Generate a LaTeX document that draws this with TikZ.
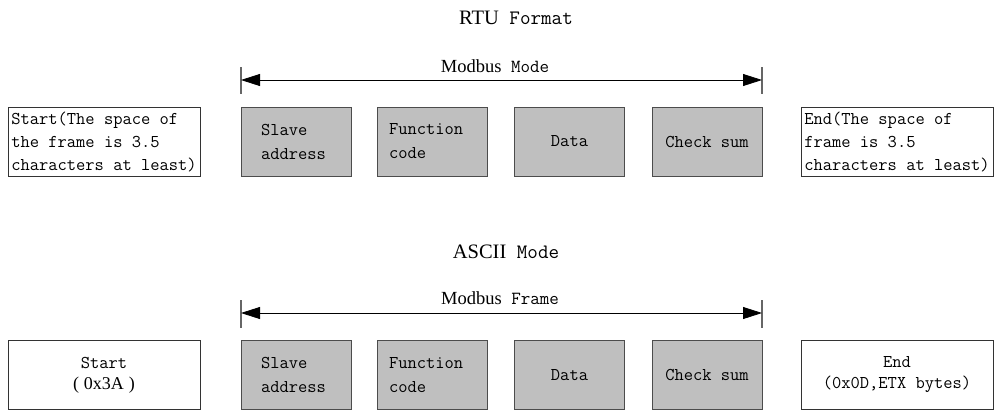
\documentclass[tikz,border=0pt]{standalone}
\usepackage{fontspec}
\setmainfont{Liberation Serif}
\usetikzlibrary{arrows.meta}
\tikzset{
  field/.style={draw=black!70, fill=black!25, line width=1pt, minimum width=110pt, minimum height=69pt, inner sep=0pt, font=\ttfamily\fontsize{18}{24}\selectfont},
  endbox/.style={draw=black!80, fill=white, line width=1pt, minimum width=192pt, minimum height=69pt, inner sep=0pt, font=\ttfamily\fontsize{18}{23}\selectfont},
  framespan/.style={line width=0.8pt, {Triangle[length=19pt,width=12pt]}-{Triangle[length=19pt,width=12pt]}},
  endtick/.style={draw=black!60, line width=1.5pt},
  heading/.style={font=\fontsize{20.5}{24}\selectfont},
  spanlabel/.style={font=\fontsize{18.5}{22}\selectfont}
}
\begin{document}
\begin{tikzpicture}[x=1pt,y=-1pt]
\useasboundingbox (0,0) rectangle (995,410);
\node[heading] (rtu) at (516,18) {\textrm{RTU}\texttt{ Format}};
\node[endbox, align=left] (start) at (104,141.5) {Start(The space of\\the frame is 3.5\\characters at least)};
\node[field, text width=70pt, align=left] (slave) at (296,141.5) {Slave\\address};
\node[field, text width=87pt, align=left] (func) at (432.5,141.5) {Function\\code};
\node[field] (data) at (569.5,141.5) {Data};
\node[field] (check) at (707,141.5) {Check sum};
\node[endbox, align=left] (end) at (897,141.5) {End(The space of\\frame is 3.5\\characters at least)};
\coordinate (rtuL) at (241,80);
\coordinate (rtuR) at (762,80);
\draw[endtick] ([yshift=13pt]rtuL) -- ([yshift=-14pt]rtuL);
\draw[endtick] ([yshift=13pt]rtuR) -- ([yshift=-14pt]rtuR);
\draw[framespan] (rtuL) -- (rtuR);
\node[spanlabel] (rtumode) at (495,66) {\textrm{Modbus}\texttt{ Mode}};

\node[heading] (ascii) at (506,252) {\textrm{ASCII}\texttt{ Mode}};
\node[endbox, align=center, font=\ttfamily\fontsize{18}{21}\selectfont] (bstart) at (104,375) {Start\\\textrm{(\;0x3A\;)}};
\node[field, text width=70pt, align=left] (bslave) at (296,375) {Slave\\address};
\node[field, text width=87pt, align=left] (bfunc) at (432.5,375) {Function\\code};
\node[field] (bdata) at (569.5,375) {Data};
\node[field] (bcheck) at (707,375) {Check sum};
\node[endbox, align=center, font=\ttfamily\fontsize{18}{21}\selectfont] (bend) at (897,375) {End\\(0x0D,ETX bytes)};
\coordinate (asciiL) at (241,313);
\coordinate (asciiR) at (762,313);
\draw[endtick] ([yshift=13pt]asciiL) -- ([yshift=-15pt]asciiL);
\draw[endtick] ([yshift=13pt]asciiR) -- ([yshift=-15pt]asciiR);
\draw[framespan] (asciiL) -- (asciiR);
\node[spanlabel] (asciiframe) at (500,298) {\textrm{Modbus}\texttt{ Frame}};
\end{tikzpicture}
\end{document}
